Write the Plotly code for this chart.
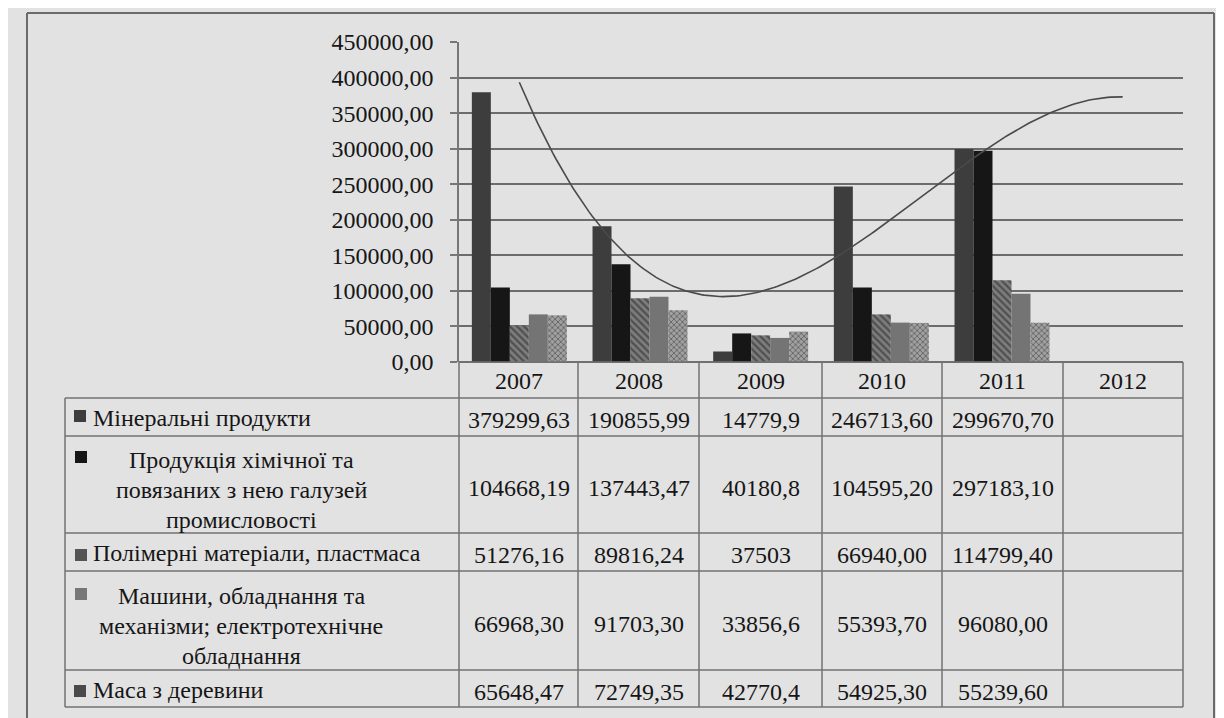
import numpy as np
import plotly.graph_objects as go

# ---------------- data ----------------
years = ["2007", "2008", "2009", "2010", "2011", "2012"]
data_years = ["2007", "2008", "2009", "2010", "2011"]

mineral = [379299.63, 190855.99, 14779.9, 246713.60, 299670.70]
chemical = [104668.19, 137443.47, 40180.8, 104595.20, 297183.10]
polymer = [51276.16, 89816.24, 37503, 66940.00, 114799.40]
machines = [66968.30, 91703.30, 33856.6, 55393.70, 96080.00]
wood = [65648.47, 72749.35, 42770.4, 54925.30, 55239.60]

# decimals shown in the table for each year column
decimals = [2, 2, None, 2, 2]

series_names = [
    "Мінеральні продукти",
    "Продукція хімічної та повязаних з нею галузей промисловості",
    "Полімерні матеріали, пластмаса",
    "Машини, обладнання та механізми; електротехнічне обладнання",
    "Маса з деревини",
]
label_lines = [
    ["Мінеральні продукти"],
    ["Продукція хімічної та", "повязаних з нею галузей", "промисловості"],
    ["Полімерні матеріали, пластмаса"],
    ["Машини, обладнання та", "механізми; електротехнічне", "обладнання"],
    ["Маса з деревини"],
]
y_ticks = [0, 50000, 100000, 150000, 200000, 250000, 300000, 350000, 400000, 450000]
y_tick_text = ["0,00", "50000,00", "100000,00", "150000,00", "200000,00",
               "250000,00", "300000,00", "350000,00", "400000,00", "450000,00"]

all_series = [mineral, chemical, polymer, machines, wood]

# ---------------- style ----------------
OFF = 8                      # page body margin
W, H = 1224 - OFF, 718 - OFF
PL, PR, PT, PB = 459, 1183, 42, 362   # plot area in screen pixels
BG = "#e2e2e2"
TXT = "#161616"
LINE = "#727272"
FONT = "Liberation Serif"
FS = 24

bar_styles = [
    dict(color="#3d3d3d"),
    dict(color="#161616"),
    dict(color="#7a7a7a", pattern=dict(shape="\\", fgcolor="#222222", bgcolor="#7d7d7d", size=5, solidity=0.45)),
    dict(color="#747474"),
    dict(color="#999999", pattern=dict(shape="x", fgcolor="#2a2a2a", bgcolor="#a0a0a0", size=4, solidity=0.4)),
]
key_colors = ["#3d3d3d", "#161616", "#555555", "#777777", "#4a4a4a"]


def px(x):
    return (x - PL) / (PR - PL)


def py(y):
    return (PB - y) / (PB - PT)


fig = go.Figure()

x_idx = list(range(len(data_years)))
for name, vals, st in zip(series_names, all_series, bar_styles):
    fig.add_trace(go.Bar(
        x=x_idx, y=vals, name=name,
        marker=dict(line=dict(width=0), **st),
        showlegend=False,
    ))

# polynomial (3rd order) trendline of the mineral products, forecast one period forward
coef = np.polyfit(np.arange(1, len(mineral) + 1), mineral, 3)
tx = np.linspace(1, len(years), 200)
fig.add_trace(go.Scatter(
    x=tx - 1, y=np.polyval(coef, tx), mode="lines",
    line=dict(color="#4a4a4a", width=1.6), showlegend=False, hoverinfo="skip",
))

shapes = []
annotations = []


def hline(x0, x1, y, color=LINE, width=1.5):
    shapes.append(dict(type="line", xref="paper", yref="paper",
                       x0=px(x0), x1=px(x1), y0=py(y), y1=py(y),
                       line=dict(color=color, width=width)))


def vline(x, y0, y1, color=LINE, width=1.5):
    shapes.append(dict(type="line", xref="paper", yref="paper",
                       x0=px(x), x1=px(x), y0=py(y0), y1=py(y1),
                       line=dict(color=color, width=width)))


def text(x, y, s, anchor="center", size=FS):
    annotations.append(dict(xref="paper", yref="paper", x=px(x), y=py(y),
                            text=s, showarrow=False, xanchor=anchor, yanchor="middle",
                            font=dict(family=FONT, size=size, color=TXT)))


# ---------------- table ----------------
col_x = [459, 578, 699, 822, 942, 1063, 1183]
row_y = [362, 398, 436, 533, 571, 670, 707]
TL = 65

hline(col_x[0], col_x[-1], row_y[0])
for yv in row_y[1:]:
    hline(TL, col_x[-1], yv)
vline(TL, row_y[1], row_y[-1])
for xv in col_x:
    vline(xv, row_y[0], row_y[-1])

for i, yr in enumerate(years):
    text((col_x[i] + col_x[i + 1]) / 2, 381, yr)


def fmt(v, d):
    s = f"{v:g}" if d is None else f"{v:.{d}f}"
    return s.replace(".", ",")


for r, vals in enumerate(all_series):
    yc = (row_y[r + 1] + row_y[r + 2]) / 2 + 3
    for c, v in enumerate(vals):
        text((col_x[c] + col_x[c + 1]) / 2, yc, fmt(v, decimals[c]))

key_boxes = [(74, 410), (75, 451), (75, 549), (75, 588), (74, 685)]
for r, lines in enumerate(label_lines):
    kx, ky = key_boxes[r]
    shapes.append(dict(type="rect", xref="paper", yref="paper",
                       x0=px(kx), x1=px(kx + 12), y0=py(ky), y1=py(ky + 12),
                       line=dict(width=0), fillcolor=key_colors[r]))
    top, bot = row_y[r + 1], row_y[r + 2]
    if len(lines) == 1:
        text(91, (top + bot) / 2 + 1, lines[0], anchor="left")
    else:
        yc = (top + bot) / 2 + 5
        for k, ln in enumerate(lines):
            text(241, yc + (k - 1) * 30, ln)

# scan frame
shapes.append(dict(type="line", xref="paper", yref="paper", x0=px(27), x1=px(1214),
                   y0=py(13), y1=py(13), line=dict(color="#6a6a6a", width=2)))
shapes.append(dict(type="line", xref="paper", yref="paper", x0=px(27), x1=px(27),
                   y0=py(13), y1=py(720), line=dict(color="#6a6a6a", width=2)))
shapes.append(dict(type="line", xref="paper", yref="paper", x0=px(1214), x1=px(1214),
                   y0=py(13), y1=py(720), line=dict(color="#6a6a6a", width=2)))

fig.update_layout(
    width=W, height=H, autosize=False,
    margin=dict(l=PL - OFF, r=1224 - PR, t=PT - OFF, b=718 - PB),
    paper_bgcolor=BG, plot_bgcolor=BG,
    barmode="group", bargap=0.213, bargroupgap=0,
    shapes=shapes, annotations=annotations,
    font=dict(family=FONT, size=FS, color=TXT),
    xaxis=dict(range=[-0.5, len(years) - 0.5], showticklabels=False, showgrid=False,
               zeroline=False, showline=False, ticks="", fixedrange=True),
    yaxis=dict(range=[0, 450000], tickvals=y_ticks, ticktext=y_tick_text,
               showgrid=True, gridcolor="#6c6c6c", gridwidth=1.5,
               zeroline=True, zerolinecolor="#6c6c6c", zerolinewidth=1.5,
               showline=True, linecolor="#777777", linewidth=1.5,
               ticks="outside", ticklen=7, tickcolor="#777777", tickwidth=1.5,
               ticklabelstandoff=12,
               tickfont=dict(family=FONT, size=FS, color=TXT), fixedrange=True),
)

fig.write_html("out.html")
